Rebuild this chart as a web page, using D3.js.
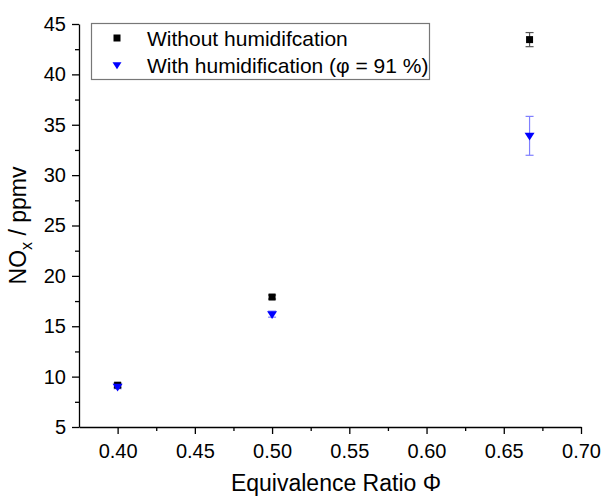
<!DOCTYPE html>
<html>
<head>
<meta charset="utf-8">
<script src="https://cdn.jsdelivr.net/npm/d3@7"></script>
<style>
  body { margin: 0; background: #fff; }
  text { font-family: "Liberation Sans", Arial, sans-serif; }
</style>
</head>
<body>
<svg id="svg"></svg>
<script>
'use strict';

// ================================= data ======================================
var phi = [0.40, 0.50, 0.6667];
var noxDry = [9.15, 17.9, 43.45];
var noxDryErr = [0.2, 0.2, 0.7];
var noxWet = [9.0, 16.2, 33.9];
var noxWetErr = [0.2, 0.3, 1.93];

var xTicks = [0.40, 0.45, 0.50, 0.55, 0.60, 0.65, 0.70];
var xMinor = [0.425, 0.475, 0.525, 0.575, 0.625, 0.675];
var yTicks = [5, 10, 15, 20, 25, 30, 35, 40, 45];
var yMinor = [7.5, 12.5, 17.5, 22.5, 27.5, 32.5, 37.5, 42.5];

var legendLabels = ["Without humidifcation", "With humidification (\u03c6 = 91 %)"];

// ================================= setup ======================================
var width = 603;
var height = 497;
var margin = { top: 24, right: 22, bottom: 70, left: 79 };

var svg = d3.select("#svg")
    .attr("width", width)
    .attr("height", height);

var x = d3.scaleLinear()
    .domain([0.375, 0.70])
    .range([margin.left, width - margin.right]);

var y = d3.scaleLinear()
    .domain([5, 45])
    .range([height - margin.bottom, margin.top]);

// ================================= axes ======================================
var xAxis = svg.append("g")
    .attr("transform", "translate(0," + y(5) + ")")
    .call(d3.axisBottom(x).tickValues(xTicks).tickFormat(d3.format(".2f")).tickSize(7).tickSizeOuter(0));

svg.append("g")
    .attr("transform", "translate(0," + y(5) + ")")
    .call(d3.axisBottom(x).tickValues(xMinor).tickFormat("").tickSize(4).tickSizeOuter(0))
    .select(".domain").remove();

var yAxis = svg.append("g")
    .attr("transform", "translate(" + x(0.375) + ",0)")
    .call(d3.axisLeft(y).tickValues(yTicks).tickSize(7).tickSizeOuter(0));

svg.append("g")
    .attr("transform", "translate(" + x(0.375) + ",0)")
    .call(d3.axisLeft(y).tickValues(yMinor).tickFormat("").tickSize(4).tickSizeOuter(0))
    .select(".domain").remove();

svg.selectAll(".domain").attr("stroke", "#000").attr("stroke-width", 1.3);
svg.selectAll(".tick line").attr("stroke", "#000").attr("stroke-width", 1.3);
svg.selectAll(".tick text")
    .attr("font-family", "Liberation Sans, Arial, sans-serif")
    .attr("font-size", 20)
    .attr("fill", "#000");
xAxis.selectAll(".tick text").attr("dy", "1.05em");
yAxis.selectAll(".tick text").attr("dx", "-0.15em");

// axis titles
svg.append("text")
    .attr("x", (x(0.375) + x(0.70)) / 2 + 6)
    .attr("y", 491)
    .attr("text-anchor", "middle")
    .attr("font-size", 23)
    .text("Equivalence Ratio \u03a6");

var yl = svg.append("text")
    .attr("transform", "translate(26," + ((y(5) + y(45)) / 2) + ") rotate(-90)")
    .attr("text-anchor", "middle")
    .attr("font-size", 23);
yl.append("tspan").text("NO");
yl.append("tspan").attr("font-size", 16).attr("dy", 6).text("x");
yl.append("tspan").attr("dy", -6).text(" / ppmv");

// ================================= points ======================================
function errorBars(vals, errs, color) {
    var g = svg.append("g").attr("stroke", color).attr("stroke-width", 1.2);
    phi.forEach(function (p, i) {
        var cx = x(p);
        var lo = y(vals[i] - errs[i]);
        var hi = y(vals[i] + errs[i]);
        g.append("line").attr("x1", cx).attr("x2", cx).attr("y1", lo).attr("y2", hi);
        g.append("line").attr("x1", cx - 4).attr("x2", cx + 4).attr("y1", lo).attr("y2", lo);
        g.append("line").attr("x1", cx - 4).attr("x2", cx + 4).attr("y1", hi).attr("y2", hi);
    });
}

errorBars(noxDry, noxDryErr, "#555");
errorBars(noxWet, noxWetErr, "#8080ff");

var square = d3.symbol().type(d3.symbolSquare).size(49);
svg.append("g")
    .selectAll("path")
    .data(phi)
    .join("path")
    .attr("d", square)
    .attr("transform", (d, i) => "translate(" + x(d) + "," + y(noxDry[i]) + ")")
    .attr("fill", "#000");

// downward triangle
function triDown(s) {
    return "M" + (-s) + "," + (-s * 0.6) + "L" + s + "," + (-s * 0.6) + "L0," + (s * 0.95) + "Z";
}
svg.append("g")
    .selectAll("path")
    .data(phi)
    .join("path")
    .attr("d", triDown(5))
    .attr("transform", (d, i) => "translate(" + x(d) + "," + y(noxWet[i]) + ")")
    .attr("fill", "#0000ff");

// ================================= legend ======================================
var legend = svg.append("g");
legend.append("rect")
    .attr("x", 91.5).attr("y", 23.5)
    .attr("width", 338).attr("height", 56)
    .attr("fill", "#fff")
    .attr("stroke", "#777")
    .attr("stroke-width", 1.2);

legend.append("rect")
    .attr("x", 117 - 3.5).attr("y", 38 - 3.5)
    .attr("width", 7).attr("height", 7)
    .attr("fill", "#000");
legend.append("path")
    .attr("d", triDown(4.5))
    .attr("transform", "translate(117,65)")
    .attr("fill", "#0000ff");

legend.selectAll("text")
    .data(legendLabels)
    .join("text")
    .attr("x", 147)
    .attr("y", (d, i) => 45.5 + i * 27)
    .attr("font-size", 21)
    .text(d => d);
</script>
</body>
</html>
